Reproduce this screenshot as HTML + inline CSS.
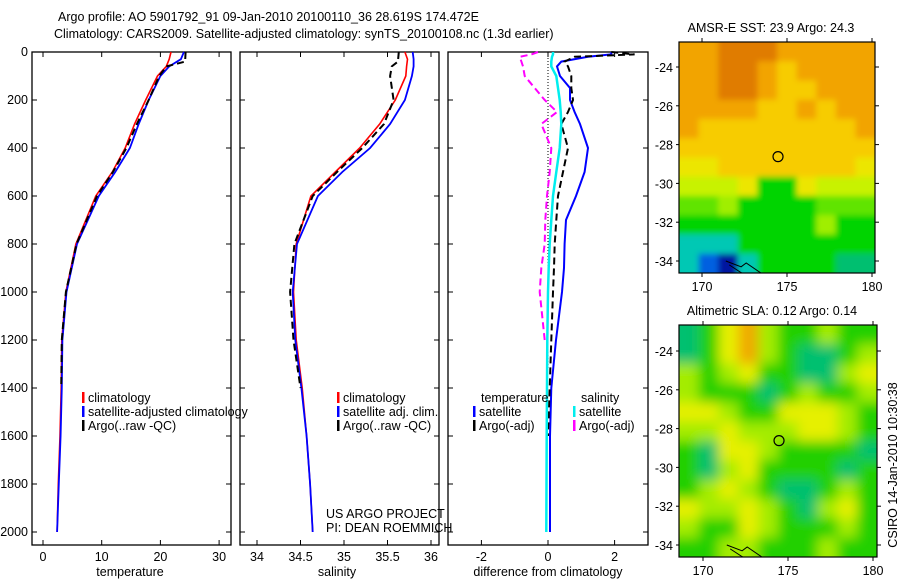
<!DOCTYPE html>
<html><head><meta charset="utf-8"><style>
body{margin:0;background:#fff;}
svg{display:block;font-family:"Liberation Sans",sans-serif;}
text{font-size:12.5px;fill:#000;}
</style></head><body>
<svg id="c" width="900" height="580" viewBox="0 0 900 580">
<defs>
<clipPath id="cm1"><rect x="679" y="42" width="196" height="231"/></clipPath>
<clipPath id="cm2"><rect x="679" y="325" width="198" height="232"/></clipPath>
<filter id="b1" x="-10%" y="-10%" width="120%" height="120%"><feGaussianBlur stdDeviation="3"/></filter>
<filter id="b2" x="-10%" y="-10%" width="120%" height="120%"><feGaussianBlur stdDeviation="6"/></filter>
</defs>
<text x="58" y="21">Argo profile: AO 5901792_91 09-Jan-2010 20100110_36 28.619S 174.472E</text>
<text x="54" y="38">Climatology: CARS2009. Satellite-adjusted climatology: synTS_20100108.nc (1.3d earlier)</text>
<g id="g"></g>
</svg>
<script>
// ---- depth / profile data ----
const depthT = [0,30,60,100,200,300,400,500,600,800,1000,1200,1400,1600,1800,2000];
const tempClim = [21.8,21.5,21.0,19.5,17.5,15.6,14.0,11.8,9.0,5.6,3.9,3.2,3.1,2.9,2.6,2.4];
const tempSat = [24.0,23.5,21.5,20.0,18.0,16.3,14.8,12.3,9.5,5.8,4.0,3.3,3.2,3.0,2.7,2.4];
const depthArgoT = [0,40,60,100,200,300,400,500,600,800,1000,1200,1400];
const tempArgo = [24.3,24.2,21.0,19.8,18.0,16.0,14.2,11.9,9.2,5.7,3.9,3.2,3.1];
const salClim = [35.70,35.73,35.72,35.71,35.59,35.41,35.18,34.90,34.62,34.45,34.42,34.45,34.52,34.57,34.61,34.64];
const salSat = [35.79,35.80,35.80,35.78,35.70,35.53,35.30,34.98,34.70,34.46,34.41,34.44,34.51,34.57,34.61,34.64];
const salArgo = [35.63,35.62,35.55,35.53,35.57,35.46,35.21,34.92,34.64,34.43,34.38,34.42,34.50];
const depthD = [0,10,20,40,60,100,150,200,250,300,400,500,600,700,800,900,1000,1200,1400,1600,2000];
const diffTSat = [1.9,1.9,1.2,0.4,0.27,0.36,0.66,0.66,0.8,0.96,1.2,1.1,0.84,0.54,0.5,0.48,0.42,0.24,0.1,0.06,0.06];
const diffTArgo = [1.9,2.6,0.8,0.5,0.6,0.7,0.7,0.75,0.6,0.4,0.6,0.45,0.3,0.25,0.2,0.18,0.15,0.1,0.05,0.0,null];
const diffSSat = [0.15,0.15,0.12,0.1,0.1,0.25,0.3,0.35,0.38,0.4,0.35,0.25,0.15,0.1,0.05,0.02,0.0,-0.02,-0.03,-0.04,-0.05];
const diffSArgo = [-0.3,-0.5,-0.85,-0.8,-0.75,-0.7,-0.4,-0.1,0.27,-0.2,0.1,0.05,-0.03,-0.08,-0.1,-0.2,-0.25,-0.1,null,null,null];
const depthTicks = [0,200,400,600,800,1000,1200,1400,1600,1800,2000];
const tTicks = [0,10,20,30];
const sTicks = [34,34.5,35,35.5,36];
const dTicks = [-2,0,2];
// ---- map data ----
const sstRows = ["OODDDOOOOO","OODDOYOOOO","OODDOYYOOO","OOOOYYOYOO","OYYYYYYYYO","YYYYYYYYYY","yyYYYYYYYy","LLLyGGyLLL","gglGGGGggg","GGGGGGGlGG","CCCGGGGGGG","CBKCGGGGTT"];
const slaRows = ["TGYOLGGLGG","TGYOLGTTGL","LGLYGGTTLY","LGGGTGLGGL","YYLGGYYYLG","LLYLLLYYLG","GTYYLGGGGT","GTLYGGGGTG","GLYLGTTGLG","YLLYLGTLYG","LGGYLGGGLG","GGLLGGGLGG"];
const latTicks = [-24,-26,-28,-30,-32,-34];
const lonTicks = [170,175,180];
const argoLat = -28.619, argoLon = 174.472;

const NS="http://www.w3.org/2000/svg", G=document.getElementById('g');
function el(t,a,p){const e=document.createElementNS(NS,t);for(const k in a)e.setAttribute(k,a[k]);(p||G).appendChild(e);return e;}
const yD = d => 52 + d*0.24;
const xT = v => 43 + v*5.87;
const xS = v => 257 + (v-34)*87;
const xDf = v => 548 + v*33.3;

function panel(name,x0,x1,ticks,xf,label,lx,showY){
  const r=el('rect',{x:x0,y:52,width:x1-x0,height:493,fill:'none',stroke:'#000','stroke-width':1.3});
  
  
  depthTicks.forEach(d=>{
    el('line',{x1:x0,x2:x0+5,y1:yD(d),y2:yD(d),stroke:'#000'});
    el('line',{x1:x1,x2:x1-5,y1:yD(d),y2:yD(d),stroke:'#000'});
    if(showY){const t=el('text',{x:x0-4,y:yD(d)+4,'text-anchor':'end'});t.textContent=d;
      
      }
  });
  ticks.forEach(v=>{
    el('line',{x1:xf(v),x2:xf(v),y1:545,y2:540,stroke:'#000'});
    el('line',{x1:xf(v),x2:xf(v),y1:52,y2:57,stroke:'#000'});
    const t=el('text',{x:xf(v),y:561,'text-anchor':'middle'});t.textContent=v;
    
    
  });
  const t=el('text',{x:lx,y:576,'text-anchor':'middle'});t.textContent=label;
  
  
}
panel('temperature',32,231,tTicks,xT,'temperature',130,true);
panel('salinity',240,439,sTicks,xS,'salinity',337,false);
panel('difference',448,648,dTicks,xDf,'difference from climatology',548,false);

function line(name,depths,vals,xf,color,w,dash){
  let segs=[],cur=[];
  depths.forEach((d,i)=>{const v=vals[i];if(v==null||v===undefined){if(cur.length)segs.push(cur);cur=[];}else cur.push(xf(v).toFixed(1)+','+yD(d).toFixed(1));});
  if(cur.length)segs.push(cur);
  segs.forEach(s=>{const p=el('polyline',{points:s.join(' '),fill:'none',stroke:color,'stroke-width':w});
    if(dash)p.setAttribute('stroke-dasharray',dash);
    
    });
}
const z=el('line',{x1:548,x2:548,y1:52,y2:370,stroke:'#000','stroke-dasharray':'1,2'});


line('temp-climatology-line',depthT,tempClim,xT,'#f00',1.6);
line('temp-satellite-line',depthT,tempSat,xT,'#00f',1.8);
line('temp-argo-line',depthArgoT,tempArgo,xT,'#000',2,'7,4');
line('sal-climatology-line',depthT,salClim,xS,'#f00',1.6);
line('sal-satellite-line',depthT,salSat,xS,'#00f',1.8);
line('sal-argo-line',depthArgoT,salArgo,xS,'#000',2,'7,4');
line('diff-temp-satellite-line',depthD,diffTSat,xDf,'#00f',2);
line('diff-temp-argo-line',depthD,diffTArgo,xDf,'#000',2,'7,4');
line('diff-sal-satellite-line',depthD,diffSSat,xDf,'#0ee',2.5);
line('diff-sal-argo-line',depthD,diffSArgo,xDf,'#f0f',2,'7,4');

function legend(name,x,y,color,label){
  const m=el('rect',{x:x,y:y-10,width:2.5,height:11,fill:color});
  
  
  const t=el('text',{x:x+6,y:y});t.textContent=label;
  
  
}
legend('legend-t-climatology',82,402,'#f00','climatology');
legend('legend-t-satellite',82,416,'#00f','satellite-adjusted climatology');
legend('legend-t-argo',82,430,'#000','Argo(..raw -QC)');
legend('legend-s-climatology',337,402,'#f00','climatology');
legend('legend-s-satellite',337,416,'#00f','satellite adj. clim.');
legend('legend-s-argo',337,430,'#000','Argo(..raw -QC)');
let tt=el('text',{x:481,y:402});tt.textContent='temperature';


tt=el('text',{x:581,y:402});tt.textContent='salinity';


legend('legend-d-t-satellite',473,416,'#00f','satellite');
legend('legend-d-t-argo',473,430,'#000','Argo(-adj)');
legend('legend-d-s-satellite',573,416,'#0ee','satellite');
legend('legend-d-s-argo',573,430,'#f0f','Argo(-adj)');
tt=el('text',{x:326,y:518});tt.textContent='US ARGO PROJECT';


tt=el('text',{x:326,y:532});tt.textContent='PI: DEAN ROEMMICH';



// ---- maps ----
const pal={O:'#f2a400',D:'#e07c00',Y:'#f7cc00',y:'#ece600',L:'#c8f200',l:'#a0ee00',g:'#60e400',G:'#00d400',C:'#00c8b4',B:'#0060e0',K:'#0018a0',T:'#00bf70'};
const pal2={O:'#f0a800',Y:'#e6f000',L:'#a4ec00',G:'#22d000',T:'#00c070'};
function map(name,rows,p,x0,y0,w,h,clip,blur,title,latY,lonX){
  const cw=w/rows[0].length,ch=h/rows.length;
  const gg=el('g',{'clip-path':'url(#'+clip+')'});
  const inner=el('g',{filter:'url(#'+blur+')'},gg);
  rows.forEach((r,i)=>r.split('').forEach((c,j)=>{
    el('rect',{x:x0+j*cw-(j==0?12:0),y:y0+i*ch-(i==0?12:0),width:cw+(j==0||j==r.length-1?13:0.6),height:ch+(i==0||i==rows.length-1?13:0.6),fill:p[c]},inner);
  }));
  
  
  const b=el('rect',{x:x0,y:y0,width:w,height:h,fill:'none',stroke:'#000','stroke-width':1.2});
  
  
  const t=el('text',{x:x0+w/2-6,y:y0-10,'text-anchor':'middle'});t.textContent=title;
  
  
  latTicks.forEach(v=>{const y=latY(v);
    el('line',{x1:x0+w,x2:x0+w+4,y1:y,y2:y,stroke:'#000'});
    el('line',{x1:x0,x2:x0-3,y1:y,y2:y,stroke:'#000'});
    const l=el('text',{x:x0-6,y:y+5,'text-anchor':'end'});l.textContent=v;
    
    });
  lonTicks.forEach(v=>{const x=lonX(v);
    el('line',{x1:x,x2:x,y1:y0+h,y2:y0+h+4,stroke:'#000'});
    el('line',{x1:x,x2:x,y1:y0,y2:y0-4,stroke:'#000'});
    const l=el('text',{x:x,y:y0+h+18,'text-anchor':'middle'});l.textContent=v;
    
    });
  const c=el('circle',{cx:lonX(argoLon),cy:latY(argoLat),r:5,fill:'none',stroke:'#000','stroke-width':1.2});
  
  
  const cg=el('g',{'clip-path':'url(#'+clip+')'});
  const cl=el('polyline',{points:[[171.4,-34.0],[172.3,-34.3],[172.6,-34.1],[173.6,-34.7],[173.1,-34.9],[172.3,-34.6],[171.6,-34.2]].map(q=>lonX(q[0])+','+latY(q[1])).join(' '),fill:'none',stroke:'#000','stroke-width':1},cg);
  
  
}
map('sst-map',sstRows,pal,679,42,196,231,'cm1','b1','AMSR-E SST: 23.9 Argo: 24.3',v=>67+(-24-v)*19.4,v=>702+(v-170)*17);
map('sla-map',slaRows,pal2,679,325,198,232,'cm2','b2','Altimetric SLA: 0.12 Argo: 0.14',v=>351+(-24-v)*19.4,v=>703+(v-170)*17);
const cs=el('text',{x:0,y:0,transform:'translate(897,465) rotate(-90)','text-anchor':'middle'});
cs.textContent='CSIRO 14-Jan-2010 10:30:38';


</script>
</body></html>
